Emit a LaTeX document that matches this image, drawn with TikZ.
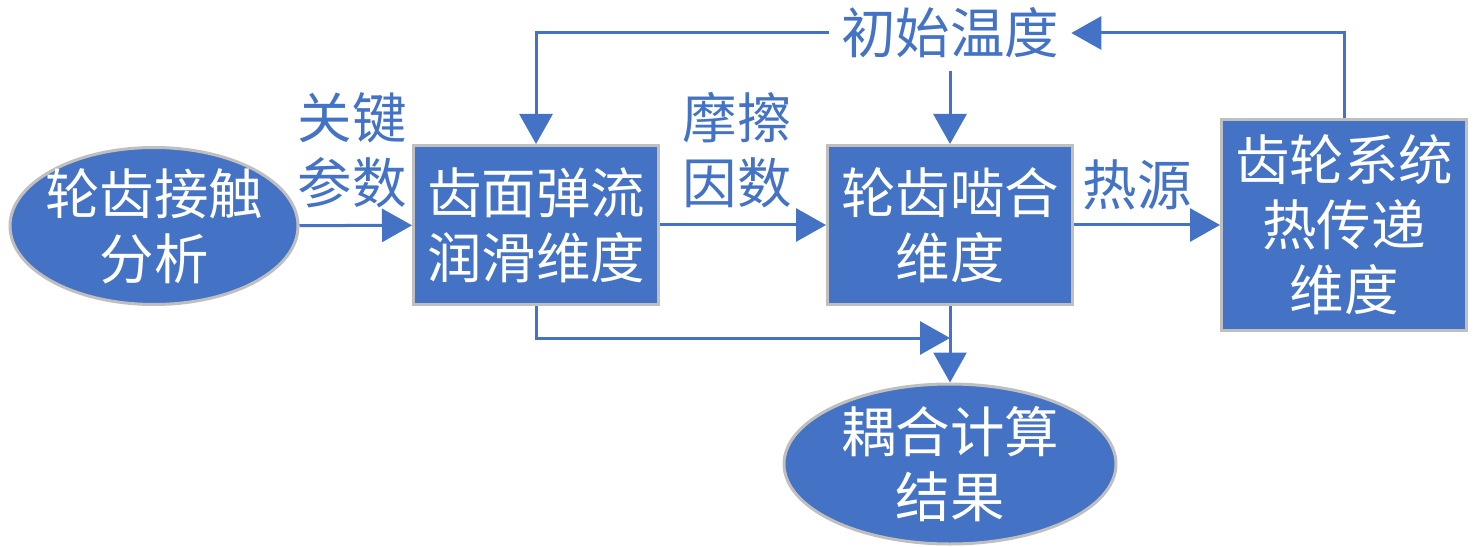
\documentclass[tikz,border=0pt]{standalone}
\usepackage{fontspec}
\newfontfamily\cjk{Noto Sans CJK SC}
\usetikzlibrary{arrows.meta,shapes.geometric}
\definecolor{wordblue}{RGB}{68,114,196}
\definecolor{rimgray}{RGB}{191,191,191}

\begin{document}
\begin{tikzpicture}[
x=0.2mm,
y=0.2mm,
font=\cjk\fontsize{31pt}{37pt}\selectfont,
blockbox/.style={rectangle, fill=wordblue, draw=rimgray, line width=0.6mm,
	text=white, align=center, inner sep=0pt, minimum width=49mm},
roundbox/.style={ellipse, fill=wordblue, draw=rimgray, line width=0.6mm,
	text=white, align=center, inner xsep=-1.8mm, inner ysep=-2mm},
labeltext/.style={text=wordblue, align=center, inner sep=0pt},
flow/.style={draw=wordblue, line width=0.6mm, -{Triangle[length=6mm,width=6.6mm]}},
]

	\useasboundingbox (0,0) rectangle (1476,546);

	%%%%%%%%%%%%%%%%%%%%%%%%%%%%
	%Bloecke
	%%%%%%%%%%%%%%%%%%%%%%%%%%%%

	\node [roundbox, minimum width=57.6mm, minimum height=31.4mm] (contact) at (154,320) {轮齿接触\\分析};
	\node [blockbox, minimum height=31.8mm] (ehl) at (536,321) {齿面弹流\\润滑维度};
	\node [blockbox, minimum height=31.8mm] (mesh) at (950,321) {轮齿啮合\\维度};
	\node [blockbox, minimum height=42mm] (heat) at (1344,321) {齿轮系统\\热传递\\维度};
	\node [roundbox, minimum width=66.4mm, minimum height=32mm] (result) at (950,82) {耦合计算\\结果};

	\node [labeltext, inner sep=2.4mm] (temp) at (950,513) {初始温度};

	%%%%%%%%%%%%%%%%%%%%%%%%%%%%
	%Pfeile
	%%%%%%%%%%%%%%%%%%%%%%%%%%%%

	\draw [flow] (contact) -- (ehl);
	\draw [flow] (ehl) -- (mesh);
	\draw [flow] (mesh) -- (heat);

	\draw [flow] (temp.west) -| (ehl.north);
	\draw [flow] (temp.south) -- (mesh.north);
	\draw [flow] (heat.north) |- (temp.east);

	\coordinate (join) at (950,208);
	\draw [flow] (ehl.south) |- (join);
	\draw [flow] (mesh.south) -- (result.north);

	\node [labeltext] (keypar) at (352,396) {关键\\参数};
	\node [labeltext] (friction) at (737,396) {摩擦\\因数};
	\node [labeltext] (source) at (1137,361) {热源};

%	%Hilfsgitter
%	\draw [help lines, step=100] (0,0) grid (1476,546);

\end{tikzpicture}
\end{document}
